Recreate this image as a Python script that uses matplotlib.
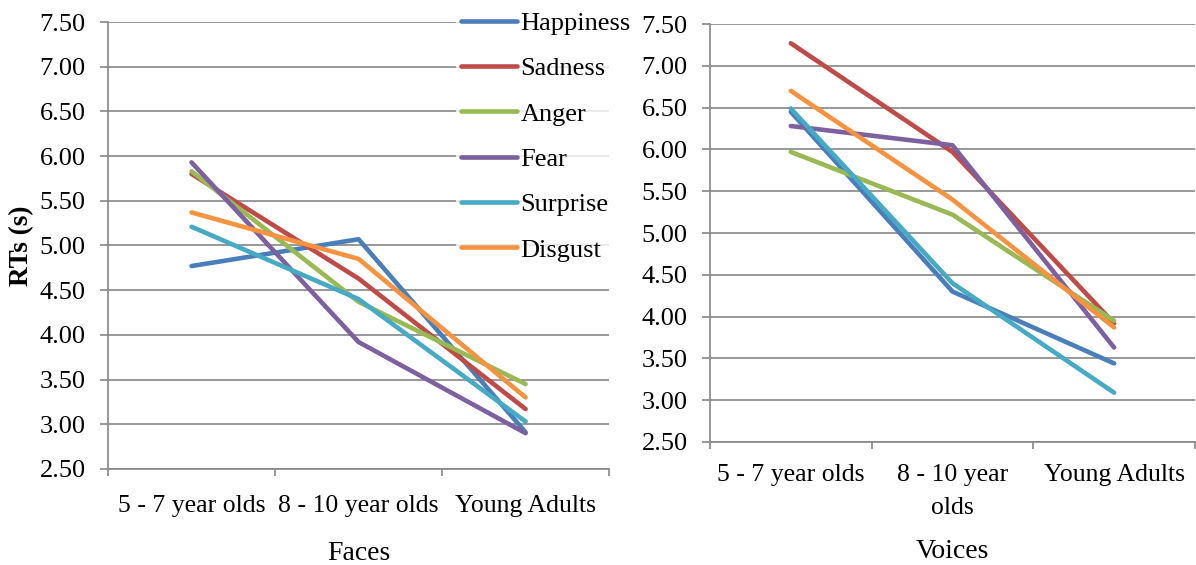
import matplotlib
matplotlib.use('Agg')
import matplotlib.pyplot as plt
import numpy as np

plt.rcParams['font.family'] = ['Liberation Serif', 'DejaVu Serif']

groups_faces = ['5 - 7 year olds', '8 - 10 year olds', 'Young Adults']
groups_voices = ['5 - 7 year olds', '8 - 10 year\nolds', 'Young Adults']
emotions = ['Happiness', 'Sadness', 'Anger', 'Fear', 'Surprise', 'Disgust']
colors = ['#4A7EBB', '#BE4B48', '#98B954', '#7D60A0', '#46AAC5', '#F69240']

# RTs in seconds
faces_happiness = [4.77, 5.07, 2.91]
faces_sadness = [5.80, 4.63, 3.17]
faces_anger = [5.83, 4.37, 3.45]
faces_fear = [5.93, 3.92, 2.90]
faces_surprise = [5.21, 4.40, 3.03]
faces_disgust = [5.37, 4.85, 3.30]

voices_happiness = [6.45, 4.30, 3.44]
voices_sadness = [7.27, 5.97, 3.92]
voices_anger = [5.97, 5.22, 3.95]
voices_fear = [6.28, 6.05, 3.63]
voices_surprise = [6.49, 4.40, 3.09]
voices_disgust = [6.70, 5.40, 3.87]

faces = [faces_happiness, faces_sadness, faces_anger, faces_fear, faces_surprise, faces_disgust]
voices = [voices_happiness, voices_sadness, voices_anger, voices_fear, voices_surprise, voices_disgust]
yticks = np.arange(2.5, 7.51, 0.5)

fig = plt.figure(figsize=(11.96, 5.65), dpi=100)
ax1 = fig.add_axes([0.0903, 0.170, 0.419, 0.791])
ax2 = fig.add_axes([0.5936, 0.2177, 0.4055, 0.7398])

grey = '#868686'

def style(ax, labels, title, title_y, xpad):
    ax.set_xlim(-0.5, 2.5)
    ax.set_ylim(2.5, 7.5)
    ax.set_yticks(yticks)
    ax.set_yticklabels(['%.2f' % v for v in yticks], fontsize=19)
    ax.set_xticks([0, 1, 2])
    ax.set_xticklabels(labels, fontsize=18.5, linespacing=1.65)
    ax.set_xticks([-0.5, 0.5, 1.5, 2.5], minor=True)
    ax.tick_params(axis='x', which='major', length=0, pad=xpad)
    ax.tick_params(axis='x', which='minor', length=5, color=grey, width=1.2)
    ax.tick_params(axis='y', length=6, color=grey, width=1.2, pad=10)
    ax.grid(axis='y', color=grey, linewidth=1.2)
    ax.set_axisbelow(True)
    for s in ['top', 'right']:
        ax.spines[s].set_visible(False)
    for s in ['left', 'bottom']:
        ax.spines[s].set_color(grey)
        ax.spines[s].set_linewidth(1.2)
    fig.text(ax.get_position().x0 + ax.get_position().width / 2, title_y, title,
             ha='center', va='center', fontsize=20)

x = np.arange(3)
lines = []
for vals, c, name in zip(faces, colors, emotions):
    l, = ax1.plot(x, vals, color=c, lw=3.3, solid_capstyle='round', solid_joinstyle='round', label=name)
    lines.append(l)
for vals, c in zip(voices, colors):
    ax2.plot(x, vals, color=c, lw=3.3, solid_capstyle='round', solid_joinstyle='round')

style(ax1, groups_faces, 'Faces', 1 - 553 / 565, 19)
style(ax2, groups_voices, 'Voices', 1 - 551 / 565, 16)

ax1.set_ylabel('RTs (s)', fontsize=19.5, fontweight='bold', labelpad=4)

leg = fig.legend(handles=lines, loc='upper left', bbox_to_anchor=(456 / 1196, 1 - 6 / 565),
                 fontsize=19, frameon=True, fancybox=False, handlelength=2.1,
                 handletextpad=0.15, labelspacing=0.83, borderpad=0.2, borderaxespad=0)
leg.get_frame().set_facecolor('white')
leg.get_frame().set_edgecolor('none')

fig.savefig('out.png', dpi=100)
